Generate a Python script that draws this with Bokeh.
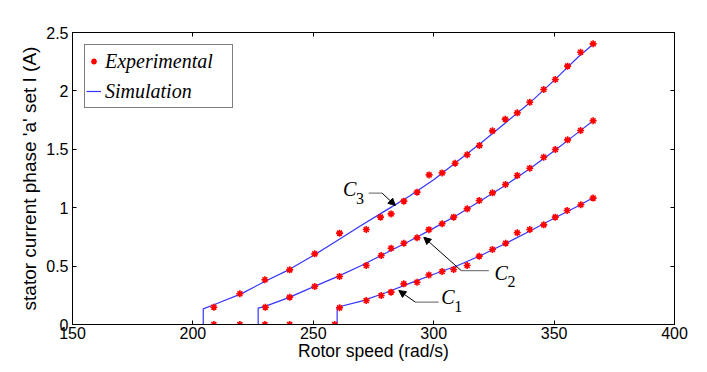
from bokeh.plotting import figure
from bokeh.models import (Range1d, LinearAxis, FixedTicker, CustomJSTickFormatter,
                          Legend, LegendItem, Label, Arrow, NormalHead)
from bokeh.embed import file_html
from bokeh.resources import INLINE

# ---------------- data ----------------
# Experimental points (rotor speed rad/s, current A)
zero_x = [208.7, 219.5, 229.9, 240.2, 258.9]
zero_y = [0, 0, 0, 0, 0]

c3_exp_x = [208.7, 219.5, 229.9, 240.2, 250.6, 260.9, 272.0, 277.9, 282.3, 287.6, 293.1,
            298.1, 303.5, 308.9, 313.9, 319.0, 324.4, 329.7, 334.7, 339.9, 345.7, 350.5,
            355.6, 361.0, 366.2]
c3_exp_y = [0.148, 0.263, 0.383, 0.468, 0.605, 0.782, 0.813, 0.919, 0.947, 1.056, 1.133,
            1.281, 1.298, 1.381, 1.453, 1.533, 1.658, 1.758, 1.812, 1.903, 2.012, 2.098,
            2.212, 2.331, 2.403]

c2_exp_x = [230.1, 240.2, 250.6, 260.9, 272.0, 278.2, 282.3, 287.6, 293.1, 298.0, 303.5,
            308.3, 313.9, 318.9, 324.4, 329.8, 334.7, 339.9, 345.7, 350.5, 355.6, 361.0, 366.2]
c2_exp_y = [0.148, 0.234, 0.325, 0.411, 0.505, 0.591, 0.653, 0.696, 0.742, 0.812, 0.862,
            0.919, 0.990, 1.062, 1.127, 1.199, 1.276, 1.338, 1.432, 1.498, 1.581, 1.661, 1.744]

c1_exp_x = [260.9, 272.0, 278.2, 282.3, 287.6, 293.1, 298.0, 303.5, 308.3, 313.9, 318.9,
            324.4, 329.9, 334.7, 339.9, 345.7, 350.5, 355.4, 361.1, 366.2]
c1_exp_y = [0.143, 0.205, 0.248, 0.277, 0.348, 0.362, 0.424, 0.454, 0.471, 0.505, 0.585,
            0.642, 0.696, 0.785, 0.813, 0.853, 0.919, 0.976, 1.025, 1.082]

# Simulation curves
c3_sim_x = [150, 204.3, 204.3, 210, 220, 230, 240, 250, 260, 270, 280, 290, 300, 310, 320,
            330, 340, 350, 360, 366.2]
c3_sim_y = [0, 0, 0.134, 0.18, 0.262, 0.37, 0.47, 0.59, 0.72, 0.85, 0.975, 1.10, 1.24,
            1.40, 1.56, 1.73, 1.90, 2.09, 2.29, 2.40]

c2_sim_x = [150, 227.1, 227.1, 230, 240, 250, 260, 270, 280, 290, 300, 310, 320, 330, 340,
            350, 360, 366.2]
c2_sim_y = [0, 0, 0.14, 0.155, 0.232, 0.322, 0.41, 0.505, 0.61, 0.715, 0.825, 0.94, 1.065,
            1.195, 1.335, 1.485, 1.645, 1.744]

c1_sim_x = [150, 259.9, 259.9, 270, 280, 290, 300, 310, 320, 330, 340, 350, 360, 366.2]
c1_sim_y = [0, 0, 0.148, 0.20, 0.272, 0.352, 0.43, 0.505, 0.595, 0.695, 0.80, 0.91, 1.015,
            1.085]

x_ticks = [150, 200, 250, 300, 350, 400]
y_ticks = [0, 0.5, 1, 1.5, 2, 2.5]

# annotation anchors
ann_names = ["3", "2", "1"]
ann_label_x = [262.3, 325.2, 303.1]
ann_label_y = [1.16, 0.445, 0.232]
ann_gray_x0 = [273.0, 311.4, 292.4]
ann_gray_x1 = [278.6, 322.9, 302.1]
ann_line_y = [1.124, 0.462, 0.191]
ann_elbow_x = [278.6, 311.4, 292.4]
ann_tip_x = [284.1, 295.9, 285.5]
ann_tip_y = [1.019, 0.747, 0.291]

# ---------------- figure ----------------
p = figure(width=699, height=364, output_backend="svg", toolbar_location=None,
           x_range=Range1d(150, 400), y_range=Range1d(0, 2.5),
           min_border_left=72, min_border_right=25, min_border_top=32, min_border_bottom=40)
p.grid.visible = False
p.outline_line_color = "black"
p.background_fill_color = "white"
p.border_fill_color = "white"

fmt = CustomJSTickFormatter(code="return String(tick);")
for ax in (p.xaxis[0], p.yaxis[0]):
    ax.major_tick_in = 4
    ax.major_tick_out = 0
    ax.minor_tick_line_color = None
    ax.axis_line_color = "black"
    ax.major_tick_line_color = "black"
    ax.major_label_text_font = "Liberation Sans"
    ax.major_label_text_font_size = "16px"
    ax.major_label_text_color = "black"
    ax.axis_label_text_font = "Liberation Sans"
    ax.axis_label_text_font_style = "normal"
    ax.axis_label_text_color = "black"
    ax.formatter = fmt
p.xaxis.ticker = FixedTicker(ticks=x_ticks)
p.yaxis.ticker = FixedTicker(ticks=y_ticks)
p.xaxis.axis_label = "Rotor speed (rad/s)"
p.yaxis.axis_label = "stator current phase 'a' set I (A)"
p.xaxis.axis_label_text_font_size = "17.5px"
p.yaxis.axis_label_text_font_size = "19px"
p.xaxis.major_label_standoff = 2
p.yaxis.major_label_standoff = 4
p.xaxis.axis_label_standoff = -1
p.yaxis.axis_label_standoff = 3

blank = CustomJSTickFormatter(code="return '';")
for loc, tk in (("above", x_ticks), ("right", y_ticks)):
    ax = LinearAxis(ticker=FixedTicker(ticks=tk), major_tick_in=4, major_tick_out=0,
                    minor_tick_line_color=None, formatter=blank, major_label_standoff=0,
                    axis_line_color="black", major_tick_line_color="black")
    p.add_layout(ax, loc)

# simulation lines
sim_color = "#3535ff"
r_c3 = p.line(c3_sim_x, c3_sim_y, line_color=sim_color, line_width=1.2)
p.line(c2_sim_x, c2_sim_y, line_color=sim_color, line_width=1.2)
p.line(c1_sim_x, c1_sim_y, line_color=sim_color, line_width=1.2)

# experimental points
mk = dict(marker="asterisk", size=7, line_color="red", line_width=1.6)
r_exp = p.scatter(c3_exp_x, c3_exp_y, **mk)
p.scatter(c2_exp_x, c2_exp_y, **mk)
p.scatter(c1_exp_x, c1_exp_y, **mk)
p.scatter(zero_x, zero_y, **mk)

# annotations
for i, n in enumerate(ann_names):
    p.segment(x0=[ann_gray_x0[i]], y0=[ann_line_y[i]], x1=[ann_gray_x1[i]], y1=[ann_line_y[i]],
              line_color="#808080", line_width=1.2)
    p.add_layout(Arrow(x_start=ann_elbow_x[i], y_start=ann_line_y[i],
                       x_end=ann_tip_x[i], y_end=ann_tip_y[i], line_color="black", line_width=1,
                       end=NormalHead(size=7, fill_color="black", line_color="black")))
    p.add_layout(Label(x=ann_label_x[i], y=ann_label_y[i], text="C", text_font="Liberation Serif",
                       text_font_style="italic", text_font_size="20px", text_color="black",
                       text_baseline="middle"))
    p.add_layout(Label(x=ann_label_x[i], y=ann_label_y[i], x_offset=13, y_offset=-9, text=n,
                       text_font="Liberation Serif", text_font_size="16px", text_color="black",
                       text_baseline="middle"))

legend = Legend(items=[LegendItem(label="Experimental", renderers=[r_exp]),
                       LegendItem(label="Simulation", renderers=[r_c3])],
                location="top_left", margin=12, padding=1, spacing=0,
                label_text_font="Liberation Serif", label_text_font_style="italic",
                label_text_font_size="20px", label_text_color="black",
                glyph_width=15, glyph_height=30, label_standoff=4, label_height=30,
                label_width=126,
                border_line_color="black", border_line_width=1,
                background_fill_color="white", background_fill_alpha=1)
p.add_layout(legend)

open("out.html", "w").write(file_html(p, INLINE))
